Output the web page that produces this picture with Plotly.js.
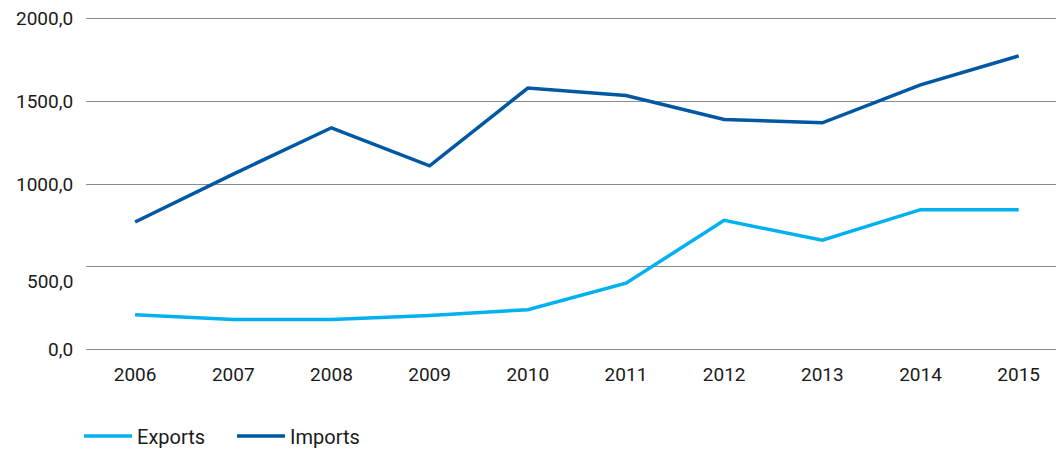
<!DOCTYPE html>
<html>
<head>
<meta charset="utf-8">
<script src="https://cdn.plot.ly/plotly-3.0.1.min.js"></script>
<style>html,body{margin:0;padding:0;background:#fff;}#chart{width:1056px;height:449px;}</style>
</head>
<body>
<div id="chart"></div>
<script>
var years = ['2006','2007','2008','2009','2010','2011','2012','2013','2014','2015'];
var exportsVals = [210, 180, 180, 205, 240, 400, 780, 660, 845, 845];
var importsVals = [770, 1060, 1340, 1110, 1580, 1535, 1390, 1370, 1600, 1775];
var yTickVals = [0, 500, 1000, 1500, 2000];
var yTickText = ['0,0', '500,0', '1000,0', '1500,0', '2000,0'];

var fam = 'Roboto, "Open Sans", sans-serif';
var font = {family: fam, size: 19, color: '#1a1a1a'};

var traces = [
  {x: years, y: exportsVals, name: 'Exports', type: 'scatter', mode: 'lines',
   line: {color: '#00b0f0', width: 3.5}},
  {x: years, y: importsVals, name: 'Imports', type: 'scatter', mode: 'lines',
   line: {color: '#0057a3', width: 3.5}}
];

var annotations = yTickVals.map(function (v, i) {
  return {xref: 'paper', yref: 'y', x: 0, y: v, text: yTickText[i],
    showarrow: false, xanchor: 'right', yanchor: 'middle', xshift: -11,
    yshift: v === 500 ? -15 : 0, font: font};
});

var layout = {
  width: 1056, height: 449,
  margin: {l: 86, r: 0, t: 16, b: 97, autoexpand: false},
  paper_bgcolor: '#fff', plot_bgcolor: '#fff',
  font: font,
  showlegend: true,
  legend: {orientation: 'h', x: -0.0072, xanchor: 'left', y: -0.25, yanchor: 'middle',
    font: {family: fam, size: 20, color: '#1a1a1a'}, itemwidth: 48,
    entrywidth: 90, entrywidthmode: 'pixels'},
  xaxis: {type: 'category', range: [-0.5, 9.38], showgrid: false, zeroline: false,
    showline: false, ticks: 'outside', ticklen: 5, tickcolor: 'rgba(0,0,0,0)',
    tickfont: font, fixedrange: true},
  yaxis: {range: [-16, 2016], tickvals: yTickVals, showticklabels: false,
    gridcolor: '#8c8c8c', gridwidth: 1, zeroline: false, showline: false, ticks: '', fixedrange: true},
  annotations: annotations
};

Plotly.newPlot('chart', traces, layout, {displayModeBar: false, staticPlot: true});
</script>
</body>
</html>
